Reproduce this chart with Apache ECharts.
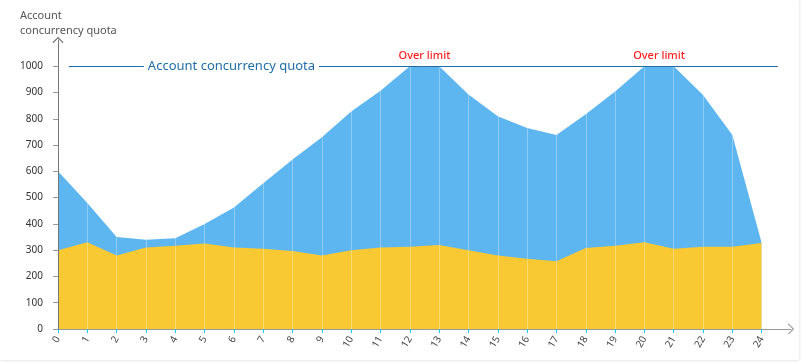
<!DOCTYPE html>
<html>
<head>
<meta charset="utf-8">
<script src="https://cdn.jsdelivr.net/npm/echarts@6/dist/echarts.min.js"></script>
<style>
  html, body { margin: 0; padding: 0; background: #fff; }
  #card { position: absolute; left: 0; top: 0; width: 799px; height: 360px; box-shadow: 0 0 3px rgba(0,0,0,0.18); background: #fff; }
  #main { position: absolute; left: 0; top: 0; width: 804px; height: 364px; }
</style>
</head>
<body>
<div id="card"></div>
<div id="main"></div>
<script>
// ---- data ----
var hours = ['0','1','2','3','4','5','6','7','8','9','10','11','12','13','14','15','16','17','18','19','20','21','22','23','24'];
var totalConcurrency = [600, 480, 350, 340, 345, 400, 462, 555, 645, 730, 828, 907, 1000, 1000, 893, 810, 765, 738, 817, 904, 1000, 1000, 891, 738, 327];
var usedConcurrency = [300, 330, 280, 310, 317, 325, 310, 305, 297, 280, 300, 310, 313, 320, 300, 280, 267, 258, 308, 317, 330, 305, 313, 313, 327];
var quota = 1000;
var yTicks = [0, 100, 200, 300, 400, 500, 600, 700, 800, 900, 1000];
var quotaLabel = 'Account concurrency quota';
var overLabel = 'Over limit';
var yName = 'Account\nconcurrency quota';

var xVals = hours.map(Number);
function pairs(vals) { return xVals.map(function (x, i) { return [x, vals[i]]; }); }

// over-limit spots: midpoints of consecutive hours at/above quota
var overPoints = [];
for (var i = 0; i < totalConcurrency.length - 1; i++) {
  if (totalConcurrency[i] >= quota && totalConcurrency[i + 1] >= quota) {
    overPoints.push({ coord: [(xVals[i] + xVals[i + 1]) / 2, quota] });
  }
}

var chevron = 'path://M0,10 L10,0 L20,10 L18.6,11.4 L10,2.8 L1.4,11.4 Z';
var font = 'Noto Sans, sans-serif';

var chart = echarts.init(document.getElementById('main'), null, { renderer: 'canvas' });
chart.setOption({
  animation: false,
  backgroundColor: 'transparent',
  title: {
    text: yName, left: 20, top: 8, padding: 0,
    textStyle: { fontSize: 11, fontWeight: 'normal', color: '#555', lineHeight: 15, fontFamily: font }
  },
  grid: { left: 58, top: 40, right: 13, bottom: 35 },
  xAxis: {
    type: 'value', min: 0, max: 25, interval: 1, z: 3,
    axisLine: { show: true, lineStyle: { color: '#9a9a9a', width: 1 }, symbol: ['none', chevron], symbolSize: [11, 8], symbolOffset: [0, 0] },
    axisTick: { show: true, length: 4, lineStyle: { color: '#1ec3f2', width: 1 }, customValues: xVals },
    axisLabel: { show: true, rotate: 60, fontSize: 10, color: '#444', margin: 8, fontFamily: font, customValues: xVals, formatter: function (v) { return String(v); } },
    splitLine: { show: true, lineStyle: { color: 'rgba(255,255,255,0.3)', width: 1 } }
  },
  yAxis: {
    type: 'value', min: 0, max: 1100, interval: 100, z: 3,
    axisLine: { show: true, lineStyle: { color: '#777', width: 1 }, symbol: ['none', chevron], symbolSize: [11, 8] },
    axisTick: { show: true, length: 5, lineStyle: { color: '#999' }, customValues: yTicks },
    axisLabel: { fontSize: 10, color: '#333', margin: 15, fontFamily: font, customValues: yTicks, formatter: function (v) { return String(v); } },
    splitLine: { show: false }
  },
  series: [
    {
      name: 'Total', type: 'line', data: pairs(totalConcurrency),
      showSymbol: false, symbol: 'none',
      lineStyle: { width: 0 },
      areaStyle: { color: '#5eb6f1', opacity: 1 },
      z: 2,
      markLine: {
        silent: true, symbol: ['none', 'none'],
        lineStyle: { color: '#1f6ea8', width: 1, type: 'solid' },
        label: {
          show: true, position: 'insideStart', distance: [75, 0],
          formatter: quotaLabel, color: '#1f6ea8', fontSize: 13, fontFamily: font,
          backgroundColor: '#fff', padding: [2, 4]
        },
        data: [[{ coord: [0.37, quota] }, { coord: [24.55, quota] }]]
      },
      markPoint: {
        silent: true, symbol: 'circle', symbolSize: 0,
        label: { show: true, position: 'top', distance: 5, formatter: overLabel, color: '#ff1f1f', fontSize: 11, fontWeight: 500, fontFamily: font },
        data: overPoints
      }
    },
    {
      name: 'Used', type: 'line', data: pairs(usedConcurrency),
      showSymbol: false, symbol: 'none',
      lineStyle: { width: 0 },
      areaStyle: { color: '#f8c933', opacity: 1 },
      z: 2
    }
  ]
});
</script>
</body>
</html>
